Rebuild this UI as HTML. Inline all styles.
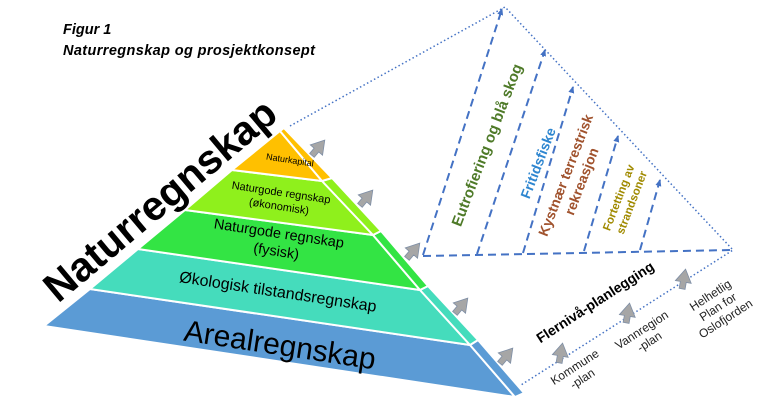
<!DOCTYPE html>
<html><head><meta charset="utf-8"><style>
html,body{margin:0;padding:0;background:#fff;}
svg{display:block;}
text{font-family:"Liberation Sans",sans-serif;}
</style></head><body>
<svg width="768" height="414" viewBox="0 0 768 414" xmlns="http://www.w3.org/2000/svg">
<defs>
<g id="ga"><path d="M-8,4 L0,-9 L8,4 L3,4 L3,11 L-3,11 L-3,4 Z" fill="#a6a6a6" stroke="#7f8fa6" stroke-width="0.8"/></g>
<marker id="ah" markerWidth="8" markerHeight="8" refX="6" refY="4" orient="auto" markerUnits="userSpaceOnUse"><path d="M0,1 L7,4 L0,7 Z" fill="#4472c4"/></marker>
</defs>
<text x="63" y="34" font-size="14.5" font-weight="bold" font-style="italic">Figur 1</text>
<text x="63" y="55" font-size="14.5" font-weight="bold" font-style="italic" textLength="252">Naturregnskap og prosjektkonsept</text>

<g stroke="#fff" stroke-width="2" stroke-linejoin="round">
<polygon points="44,326 90,289 470,345 515,397" fill="#5b9bd5"/>
<polygon points="90,289 138,249 420,290 470,345" fill="#45dcbc"/>
<polygon points="138,249 185,210 373,235 420,290" fill="#33e444"/>
<polygon points="185,210 232,170 322,181 373,235" fill="#8ff01c"/>
<polygon points="232,170 280,131 322,181" fill="#ffc000"/>
<polygon points="470,345 478,340 524,393 515,397" fill="#5b9bd5"/>
<polygon points="420,290 428,286 478,340 470,345" fill="#45dcbc"/>
<polygon points="373,235 381,231 428,286 420,290" fill="#33e444"/>
<polygon points="322,181 332,178 381,231 373,235" fill="#8ff01c"/>
<polygon points="280,131 284,128 332,178 322,181" fill="#ffc000"/>
</g>

<g transform="rotate(8.6 290 160)"><text x="290" y="163" font-size="9" text-anchor="middle">Naturkapital</text></g>
<g transform="rotate(8.6 280 200)"><text x="280" y="196" font-size="11" text-anchor="middle">Naturgode regnskap</text><text x="280" y="210" font-size="11" text-anchor="middle">(økonomisk)</text></g>
<g transform="rotate(8.6 278 240)"><text x="278" y="238" font-size="14.5" text-anchor="middle">Naturgode regnskap</text><text x="278" y="256" font-size="14.5" text-anchor="middle">(fysisk)</text></g>
<g transform="rotate(8.6 278 292)"><text x="278" y="297" font-size="16" text-anchor="middle">Økologisk tilstandsregnskap</text></g>
<g transform="rotate(8.6 280 345)"><text x="280" y="355" font-size="30" text-anchor="middle">Arealregnskap</text></g>

<g transform="rotate(-40 160 200)"><text x="160" y="214" font-size="41" font-weight="bold" text-anchor="middle">Naturregnskap</text></g>

<g fill="none" stroke="#4472c4" stroke-width="1.5" stroke-dasharray="1.5 2.5">
<polyline points="290,126 505,7 733,250 521,385"/>
</g>
<g fill="none" stroke="#4472c4" stroke-width="2" stroke-dasharray="8 5">
<line x1="423" y1="256" x2="732" y2="250"/>
<line x1="423" y1="255" x2="502" y2="9" marker-end="url(#ah)"/>
<line x1="477" y1="254" x2="545" y2="50" marker-end="url(#ah)"/>
<line x1="523" y1="253" x2="573" y2="87" marker-end="url(#ah)"/>
<line x1="584" y1="251" x2="618" y2="136" marker-end="url(#ah)"/>
<line x1="640" y1="250" x2="660" y2="180" marker-end="url(#ah)"/>
</g>

<g font-weight="bold">
<g transform="rotate(-69 487 145)"><text x="487" y="150" font-size="15" fill="#4e7a28" text-anchor="middle">Eutrofiering og blå skog</text></g>
<g transform="rotate(-69 538 163)"><text x="538" y="168" font-size="14" fill="#2e86d0" text-anchor="middle">Fritidsfiske</text></g>
<g transform="rotate(-69 573 178)"><text x="573" y="175" font-size="14" fill="#a0522d" text-anchor="middle">Kystnær terrestrisk</text><text x="573" y="192" font-size="14" fill="#a0522d" text-anchor="middle">rekreasjon</text></g>
<g transform="rotate(-69 625 200)"><text x="625" y="197" font-size="11.5" fill="#a08a00" text-anchor="middle">Fortetting av</text><text x="625" y="211" font-size="11.5" fill="#a08a00" text-anchor="middle">strandsoner</text></g>
<g transform="rotate(-33 595 302)"><text x="595" y="307" font-size="14" fill="#000" text-anchor="middle">Flernivå-planlegging</text></g>
</g>
<g font-size="12" fill="#222" text-anchor="middle">
<g transform="rotate(-33 578 372)"><text x="578" y="370">Kommune</text><text x="578" y="384">-plan</text></g>
<g transform="rotate(-33 645 335)"><text x="645" y="333">Vannregion</text><text x="645" y="347">-plan</text></g>
<g transform="rotate(-33 718 307)"><text x="718" y="297">Helhetlig</text><text x="718" y="311">Plan for</text><text x="718" y="325">Oslofjorden</text></g>
</g>

<g>
<use href="#ga" transform="translate(319,147) rotate(40)"/>
<use href="#ga" transform="translate(367,197) rotate(40)"/>
<use href="#ga" transform="translate(414,250) rotate(40)"/>
<use href="#ga" transform="translate(462,305) rotate(40)"/>
<use href="#ga" transform="translate(507,355) rotate(40)"/>
<use href="#ga" transform="translate(561,352) rotate(10)"/>
<use href="#ga" transform="translate(628,312) rotate(10)"/>
<use href="#ga" transform="translate(684,278) rotate(10)"/>
</g>
</svg>
</body></html>
